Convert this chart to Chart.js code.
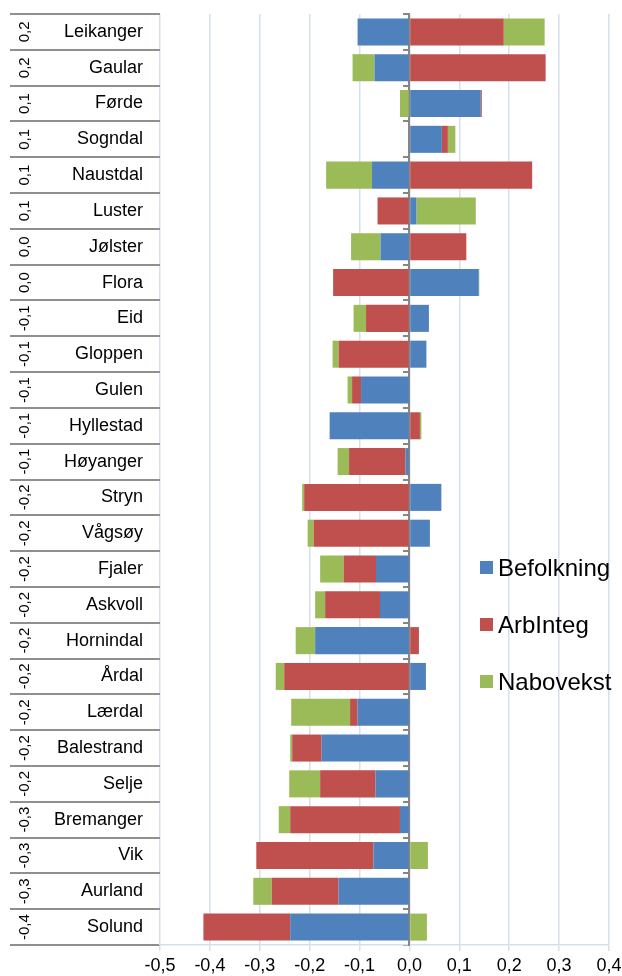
<!DOCTYPE html>
<html>
<head>
<meta charset="utf-8">
<script src="https://cdn.jsdelivr.net/npm/chart.js"></script>
<style>
  html, body { margin: 0; padding: 0; background: #fff; }
  #wrap { position: relative; width: 622px; height: 976px; }
  #legend { position: absolute; left: 480px; top: 539px; font-family: "Liberation Sans", Arial, sans-serif; font-size: 24px; color: #000; }
  #legend div { height: 57px; display: flex; align-items: center; }
  #legend span.box { width: 13px; height: 13px; margin-right: 5px; display: inline-block; }
</style>
</head>
<body>
<div id="wrap">
  <canvas id="chart" width="622" height="976"></canvas>
  <div id="legend"></div>
</div>
<script>
const kommuner = ['Leikanger', 'Gaular', 'Førde', 'Sogndal', 'Naustdal', 'Luster', 'Jølster', 'Flora', 'Eid',
  'Gloppen', 'Gulen', 'Hyllestad', 'Høyanger', 'Stryn', 'Vågsøy', 'Fjaler', 'Askvoll', 'Hornindal',
  'Årdal', 'Lærdal', 'Balestrand', 'Selje', 'Bremanger', 'Vik', 'Aurland', 'Solund'];

const totalt = ['0,2', '0,2', '0,1', '0,1', '0,1', '0,1', '0,0', '0,0', '-0,1',
  '-0,1', '-0,1', '-0,1', '-0,1', '-0,2', '-0,2', '-0,2', '-0,2', '-0,2',
  '-0,2', '-0,2', '-0,2', '-0,2', '-0,3', '-0,3', '-0,3', '-0,4'];

const befolkning = [-0.104, -0.070, 0.143, 0.065, -0.075, 0.014, -0.058, 0.139, 0.039,
  0.034, -0.097, -0.160, -0.008, 0.064, 0.041, -0.067, -0.059, -0.189,
  0.033, -0.104, -0.176, -0.068, -0.019, -0.072, -0.142, -0.239];

const arbInteg = [0.189, 0.273, 0.002, 0.012, 0.246, -0.064, 0.114, -0.153, -0.087,
  -0.142, -0.018, 0.021, -0.113, -0.211, -0.192, -0.065, -0.110, 0.019,
  -0.251, -0.015, -0.059, -0.111, -0.220, -0.235, -0.134, -0.174];

const nabovekst = [0.082, -0.044, -0.019, 0.015, -0.092, 0.119, -0.059, 0.001, -0.025,
  -0.012, -0.009, 0.003, -0.023, -0.004, -0.012, -0.047, -0.020, -0.039,
  -0.017, -0.118, -0.004, -0.062, -0.023, 0.037, -0.037, 0.035];

const font = "'Liberation Sans', Arial, sans-serif";
const separator = '#8f8f8f';
const gridBlue = '#d5dfee';

Chart.defaults.font.family = font;
Chart.defaults.color = '#000';

const ctx = document.getElementById('chart').getContext('2d');
const chart = new Chart(ctx, {
  type: 'bar',
  data: {
    labels: kommuner,
    datasets: [
      { label: 'Befolkning', data: befolkning, backgroundColor: '#4f81bd' },
      { label: 'ArbInteg', data: arbInteg, backgroundColor: '#c0504d' },
      { label: 'Nabovekst', data: nabovekst, backgroundColor: '#9bbb59' }
    ]
  },
  options: {
    indexAxis: 'y',
    responsive: false,
    animation: false,
    devicePixelRatio: 1,
    layout: { padding: { left: 10, top: 14, right: 13, bottom: 0 } },
    datasets: {
      bar: { categoryPercentage: 1, barPercentage: 0.755, borderWidth: 0 }
    },
    plugins: {
      legend: { display: false },
      tooltip: { enabled: false }
    },
    scales: {
      x: {
        stacked: true,
        min: -0.5,
        max: 0.4,
        ticks: {
          stepSize: 0.1,
          padding: 4,
          font: { size: 18 },
          callback: v => (Math.abs(v) < 1e-9 ? 0 : v).toFixed(1).replace('.', ',')
        },
        grid: { color: gridBlue, lineWidth: 1.5, tickLength: 6 },
        border: { color: gridBlue, width: 1.5 },
        afterFit: s => { s.height = 31; s.paddingRight = 0; }
      },
      // municipality names
      y: {
        stacked: true,
        weight: 0,
        offset: true,
        ticks: { autoSkip: false, padding: -108, font: { size: 18 } },
        grid: { offset: true, drawOnChartArea: false, tickLength: 125, color: separator, lineWidth: 2 },
        border: { display: false },
        afterFit: s => { s.width = 125; }
      },
      // rounded totals, rotated
      yVal: {
        axis: 'y',
        type: 'category',
        position: 'left',
        weight: 1,
        offset: true,
        labels: totalt,
        ticks: { autoSkip: false, minRotation: 90, maxRotation: 90, crossAlign: 'center', padding: -28, font: { size: 15 } },
        grid: { offset: true, drawOnChartArea: false, tickLength: 25, color: separator, lineWidth: 2 },
        border: { display: false },
        afterFit: s => { s.width = 25; }
      },
      // axis line at zero with category tick marks
      yZero: {
        axis: 'y',
        type: 'category',
        position: { x: 0 },
        offset: true,
        labels: kommuner,
        ticks: { display: false },
        grid: { offset: true, drawOnChartArea: false, tickLength: 5, color: '#868686', lineWidth: 2 },
        border: { color: '#868686', width: 2 }
      }
    }
  }
});

// legend as html, built from the datasets
const legendEl = document.getElementById('legend');
chart.data.datasets.forEach(ds => {
  const row = document.createElement('div');
  const box = document.createElement('span');
  box.className = 'box';
  box.style.background = ds.backgroundColor;
  row.appendChild(box);
  row.appendChild(document.createTextNode(ds.label));
  legendEl.appendChild(row);
});
</script>
</body>
</html>
